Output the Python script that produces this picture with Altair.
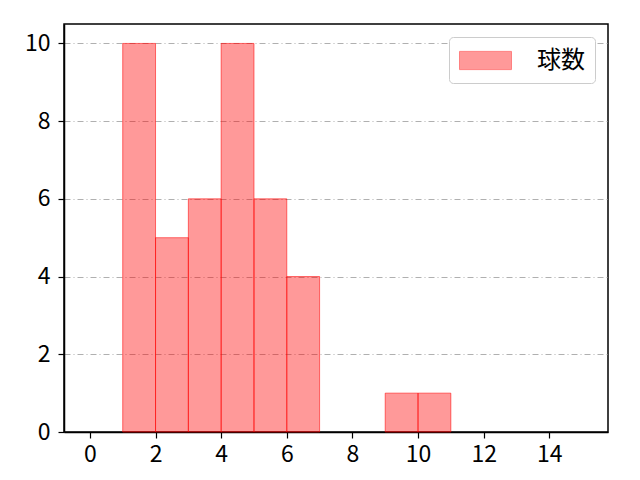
import altair as alt
import pandas as pd

bin_start = [1, 2, 3, 4, 5, 6, 9, 10]
bin_end = [2, 3, 4, 5, 6, 7, 10, 11]
counts = [10, 5, 6, 10, 6, 4, 1, 1]
series = ["球数"] * len(counts)
x_ticks = [0, 2, 4, 6, 8, 10, 12, 14]
y_ticks = [0, 2, 4, 6, 8, 10]

df = pd.DataFrame({"x0": bin_start, "x1": bin_end, "y": counts, "s": series})

FONT = "Noto Sans CJK JP"

bars = alt.Chart(df).mark_rect(
    fill="#ff0000", fillOpacity=0.4, stroke="#ff0000", strokeOpacity=0.55, strokeWidth=1
).encode(
    x=alt.X("x0:Q", scale=alt.Scale(domain=[-0.79, 15.79], nice=False, zero=False),
            axis=alt.Axis(values=x_ticks, title=None, grid=False, labelFontSize=23,
                          tickSize=6, labelPadding=5, domain=True)),
    x2="x1:Q",
    y=alt.Y("y:Q", scale=alt.Scale(domain=[0, 10.5], nice=False),
            axis=alt.Axis(values=y_ticks, title=None, grid=True, gridColor="#b0b0b0",
                          gridDash=[6, 3, 1, 3], gridWidth=1, labelFontSize=23,
                          tickSize=6, labelPadding=8, domain=True)),
    y2=alt.datum(0),
    color=alt.Color("s:N", scale=alt.Scale(range=["#ff9999"]),
                    legend=alt.Legend(title=None, orient="top-right", offset=13,
                                      symbolType="M-2,-0.7L2,-0.7L2,0.7L-2,0.7Z",
                                      symbolSize=676, symbolOffset=13,
                                      symbolStrokeColor="#ff8080",
                                      symbolStrokeWidth=1, symbolFillColor="#ff9999",
                                      labelFontSize=24, labelOffset=38,
                                      padding=10, fillColor="white",
                                      strokeColor="#cccccc", cornerRadius=4)),
)

chart = bars.properties(width=544, height=408).configure(
    font=FONT,
    autosize=alt.AutoSizeParams(type="none"),
    padding={"left": 56, "top": 16, "right": 16, "bottom": 40},
).configure_view(stroke="black", strokeWidth=1.5).configure_axis(
    labelFont=FONT, labelColor="black", tickColor="black", tickWidth=1.2,
    domainColor="black", domainWidth=1.5
).configure_legend(labelFont=FONT, labelColor="black")

chart.save("out.html", embed_options={"renderer": "svg", "actions": False})
